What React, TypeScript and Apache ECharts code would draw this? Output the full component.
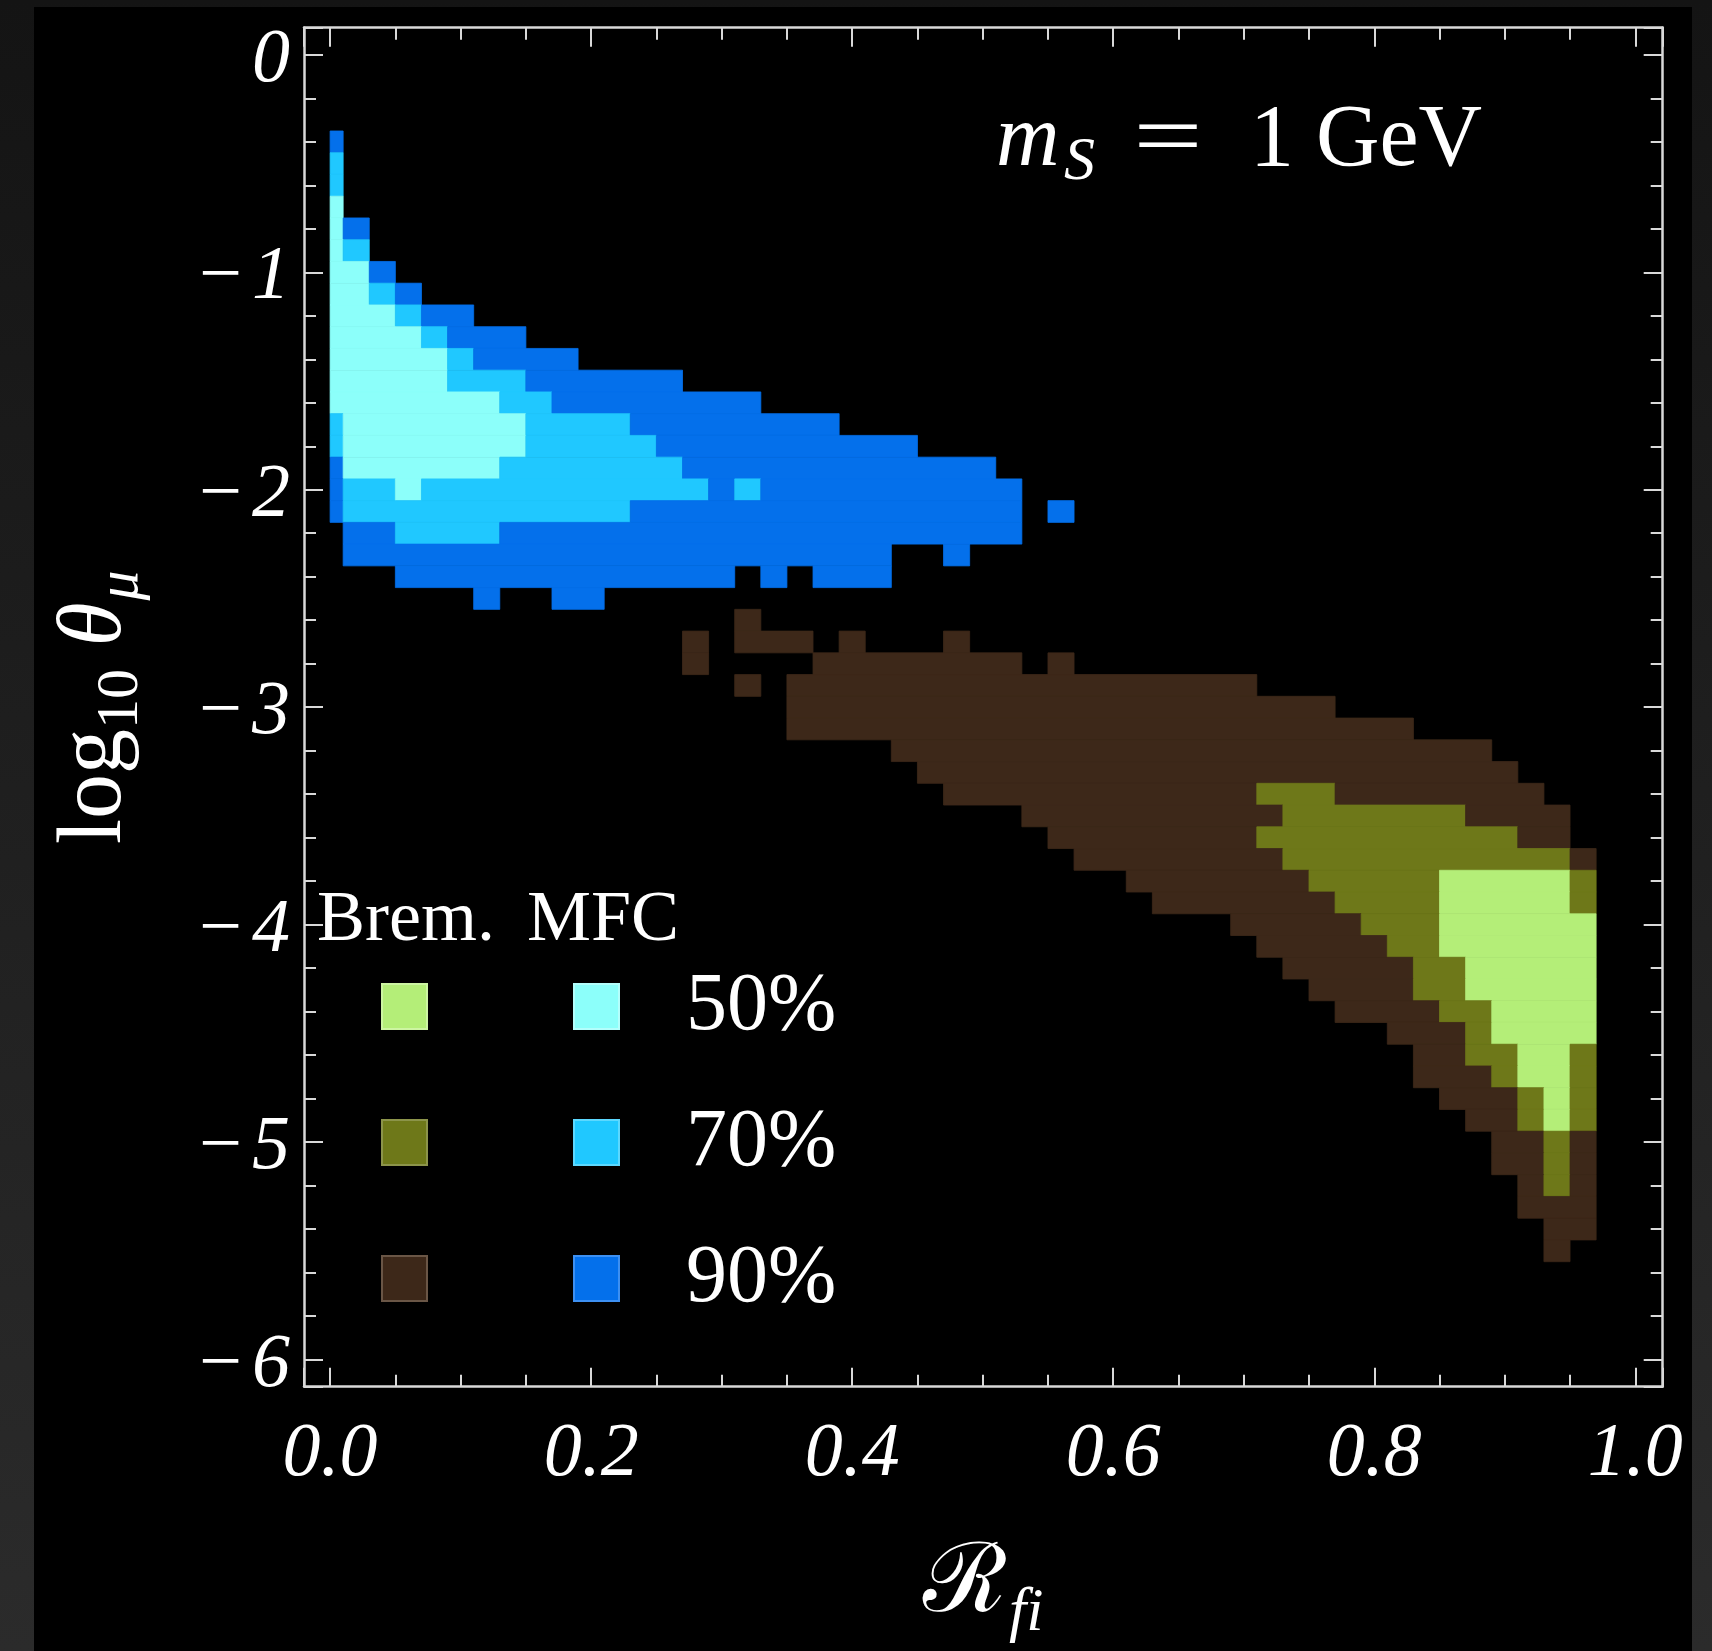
import React, { useEffect, useRef } from 'react';
import * as echarts from 'echarts';

// Grid spacing of the scan (cell centres at x = col*COL_STEP, y = -row*ROW_STEP)
const COL_STEP = 0.02;
const ROW_STEP = 0.1;

// Runs of equal confidence level: [row, firstCol, lastCol, level(%)]
const mfcRuns: number[][] = [
  [4, 0, 0, 90], [5, 0, 0, 70], [6, 0, 0, 70], [7, 0, 0, 50],
  [8, 0, 0, 50], [8, 1, 1, 90],
  [9, 0, 0, 50], [9, 1, 1, 70],
  [10, 0, 1, 50], [10, 2, 2, 90],
  [11, 0, 1, 50], [11, 2, 2, 70], [11, 3, 3, 90],
  [12, 0, 2, 50], [12, 3, 3, 70], [12, 4, 5, 90],
  [13, 0, 3, 50], [13, 4, 4, 70], [13, 5, 7, 90],
  [14, 0, 4, 50], [14, 5, 5, 70], [14, 6, 9, 90],
  [15, 0, 4, 50], [15, 5, 7, 70], [15, 8, 13, 90],
  [16, 0, 6, 50], [16, 7, 8, 70], [16, 9, 16, 90],
  [17, 0, 0, 70], [17, 1, 7, 50], [17, 8, 11, 70], [17, 12, 19, 90],
  [18, 0, 0, 70], [18, 1, 7, 50], [18, 8, 12, 70], [18, 13, 22, 90],
  [19, 0, 0, 90], [19, 1, 6, 50], [19, 7, 13, 70], [19, 14, 25, 90],
  [20, 0, 0, 90], [20, 1, 2, 70], [20, 3, 3, 50], [20, 4, 14, 70], [20, 15, 15, 90], [20, 16, 16, 70], [20, 17, 26, 90],
  [21, 0, 0, 90], [21, 1, 11, 70], [21, 12, 26, 90], [21, 28, 28, 90],
  [22, 1, 2, 90], [22, 3, 6, 70], [22, 7, 26, 90],
  [23, 1, 21, 90], [23, 24, 24, 90],
  [24, 3, 15, 90], [24, 17, 17, 90], [24, 19, 21, 90],
  [25, 6, 6, 90], [25, 9, 10, 90],
];

const bremRuns: number[][] = [
  [26, 16, 16, 90],
  [27, 14, 14, 90], [27, 16, 18, 90], [27, 20, 20, 90], [27, 24, 24, 90],
  [28, 14, 14, 90], [28, 19, 26, 90], [28, 28, 28, 90],
  [29, 16, 16, 90], [29, 18, 35, 90],
  [30, 18, 38, 90],
  [31, 18, 41, 90],
  [32, 22, 44, 90],
  [33, 23, 45, 90],
  [34, 24, 35, 90], [34, 36, 38, 70], [34, 39, 46, 90],
  [35, 27, 36, 90], [35, 37, 43, 70], [35, 44, 47, 90],
  [36, 28, 35, 90], [36, 36, 45, 70], [36, 46, 47, 90],
  [37, 29, 36, 90], [37, 37, 47, 70], [37, 48, 48, 90],
  [38, 31, 37, 90], [38, 38, 42, 70], [38, 43, 47, 50], [38, 48, 48, 70],
  [39, 32, 38, 90], [39, 39, 42, 70], [39, 43, 47, 50], [39, 48, 48, 70],
  [40, 35, 39, 90], [40, 40, 42, 70], [40, 43, 48, 50],
  [41, 36, 40, 90], [41, 41, 42, 70], [41, 43, 48, 50],
  [42, 37, 41, 90], [42, 42, 43, 70], [42, 44, 48, 50],
  [43, 38, 41, 90], [43, 42, 43, 70], [43, 44, 48, 50],
  [44, 39, 42, 90], [44, 43, 44, 70], [44, 45, 48, 50],
  [45, 41, 43, 90], [45, 44, 44, 70], [45, 45, 48, 50],
  [46, 42, 43, 90], [46, 44, 45, 70], [46, 46, 47, 50], [46, 48, 48, 70],
  [47, 42, 44, 90], [47, 45, 45, 70], [47, 46, 47, 50], [47, 48, 48, 70],
  [48, 43, 45, 90], [48, 46, 46, 70], [48, 47, 47, 50], [48, 48, 48, 70],
  [49, 44, 45, 90], [49, 46, 46, 70], [49, 47, 47, 50], [49, 48, 48, 70],
  [50, 45, 46, 90], [50, 47, 47, 70], [50, 48, 48, 90],
  [51, 45, 46, 90], [51, 47, 47, 70], [51, 48, 48, 90],
  [52, 46, 46, 90], [52, 47, 47, 70], [52, 48, 48, 90],
  [53, 46, 48, 90],
  [54, 47, 48, 90],
  [55, 47, 47, 90],
];

const confidenceLevels = [50, 70, 90];
const mfcColors: Record<number, string> = { 50: '#8cfffa', 70: '#20c8ff', 90: '#0470eb' };
const bremColors: Record<number, string> = { 50: '#b4ee78', 70: '#6e7819', 90: '#3d2819' };
const mfcEdge: Record<number, string> = { 50: '#b4fffc', 70: '#5cd8ff', 90: '#3d90f2' };
const bremEdge: Record<number, string> = { 50: '#cdf5a2', 70: '#8c944a', 90: '#6a5646' };

const xTickValues = [0, 0.2, 0.4, 0.6, 0.8, 1.0];
const xTickLabels = ['0.0', '0.2', '0.4', '0.6', '0.8', '1.0'];
const yTickValues = [0, -1, -2, -3, -4, -5, -6];
const yTickLabels = ['0', '\u2212\u200a1', '\u2212\u200a2', '\u2212\u200a3', '\u2212\u200a4', '\u2212\u200a5', '\u2212\u200a6'];

const X_RANGE = [-0.02, 1.021];
const Y_RANGE = [-6.125, 0.125];

const SERIF = '"Liberation Serif", "Times New Roman", serif';
const FRAME = '#d9d9d9';

function runsToData(runs: number[][]) {
  return runs.map(([row, c0, c1, lvl]) => [
    Math.max(0, c0 * COL_STEP - COL_STEP / 2),
    c1 * COL_STEP + COL_STEP / 2,
    -row * ROW_STEP,
    lvl,
  ]);
}

function makeRenderItem(colors: Record<number, string>) {
  return (params: any, api: any) => {
    const x0 = api.value(0);
    const x1 = api.value(1);
    const y = api.value(2);
    const lvl = api.value(3);
    const p0 = api.coord([x0, y + ROW_STEP / 2]);
    const p1 = api.coord([x1, y - ROW_STEP / 2]);
    const c = colors[lvl];
    return {
      type: 'rect',
      shape: { x: p0[0], y: p0[1], width: p1[0] - p0[0], height: p1[1] - p0[1] },
      style: { fill: c, stroke: c, lineWidth: 0.8 },
    };
  };
}

function labelFor(values: number[], labels: string[]) {
  return (v: number) => {
    const i = values.findIndex((t) => Math.abs(t - v) < 1e-9);
    return i >= 0 ? labels[i] : '';
  };
}

const tickLine = { color: FRAME, width: 2 };

function xAxisDef(position: 'top' | 'bottom', withLabels: boolean) {
  return {
    type: 'value',
    position,
    min: X_RANGE[0],
    max: X_RANGE[1],
    axisLine: { show: true, onZero: false, lineStyle: { color: FRAME, width: 2.5 } },
    axisTick: { show: true, inside: true, length: 19, lineStyle: tickLine },
    minorTick: { show: true, splitNumber: 4, length: 12, lineStyle: tickLine },
    splitLine: { show: false },
    minorSplitLine: { show: false },
    axisLabel: withLabels
      ? {
          show: true,
          formatter: labelFor(xTickValues, xTickLabels),
          color: '#ffffff',
          fontFamily: SERIF,
          fontStyle: 'italic',
          fontSize: 76,
          margin: 24,
        }
      : { show: false },
    name: withLabels ? '{r|\u211B}{f|fi}' : '',
    nameLocation: 'middle',
    nameGap: 131,
    nameTextStyle: {
      color: '#ffffff',
      rich: {
        r: { fontFamily: SERIF, fontSize: 96, color: '#ffffff' },
        f: { fontFamily: SERIF, fontStyle: 'italic', fontSize: 62, color: '#ffffff', padding: [60, 0, 0, 2] },
      },
    },
  };
}

function yAxisDef(position: 'left' | 'right', withLabels: boolean) {
  return {
    type: 'value',
    position,
    min: Y_RANGE[0],
    max: Y_RANGE[1],
    axisLine: { show: true, onZero: false, lineStyle: { color: FRAME, width: 2.5 } },
    axisTick: { show: true, inside: true, length: 19, lineStyle: tickLine },
    minorTick: { show: true, splitNumber: 5, length: 12, lineStyle: tickLine },
    splitLine: { show: false },
    minorSplitLine: { show: false },
    axisLabel: withLabels
      ? {
          show: true,
          formatter: labelFor(yTickValues, yTickLabels),
          color: '#ffffff',
          fontFamily: SERIF,
          fontStyle: 'italic',
          fontSize: 76,
          margin: 14,
        }
      : { show: false },
    name: withLabels ? '{a|log}{n|10}{a| }{t|\u03b8}{m|\u03bc}' : '',
    nameLocation: 'middle',
    nameGap: 157,
    nameTextStyle: {
      color: '#ffffff',
      rich: {
        a: { fontFamily: SERIF, fontSize: 90, color: '#ffffff' },
        t: { fontFamily: SERIF, fontStyle: 'italic', fontSize: 90, color: '#ffffff' },
        n: { fontFamily: SERIF, fontSize: 60, color: '#ffffff', padding: [56, 0, 0, 0] },
        m: { fontFamily: SERIF, fontStyle: 'italic', fontSize: 60, color: '#ffffff', padding: [56, 0, 0, 2] },
      },
    },
  };
}

function buildLegend() {
  const els: any[] = [];
  const rowTops = [984, 1120, 1256];
  const size = 45;
  els.push({
    type: 'text', x: 317, y: 916, z: 10,
    style: { text: 'Brem.', fill: '#ffffff', font: `72px ${SERIF}`, textAlign: 'left', textVerticalAlign: 'middle', verticalAlign: 'middle' },
  });
  els.push({
    type: 'text', x: 527, y: 916, z: 10,
    style: { text: 'MFC', fill: '#ffffff', font: `72px ${SERIF}`, textAlign: 'left', textVerticalAlign: 'middle', verticalAlign: 'middle' },
  });
  confidenceLevels.forEach((lvl, i) => {
    const top = rowTops[i];
    els.push({
      type: 'rect', z: 10,
      shape: { x: 382, y: top, width: size, height: size },
      style: { fill: bremColors[lvl], stroke: bremEdge[lvl], lineWidth: 2 },
    });
    els.push({
      type: 'rect', z: 10,
      shape: { x: 574, y: top, width: size, height: size },
      style: { fill: mfcColors[lvl], stroke: mfcEdge[lvl], lineWidth: 2 },
    });
    els.push({
      type: 'text', x: 686, y: top + 17, z: 10,
      style: { text: `${lvl}%`, fill: '#ffffff', font: `82px ${SERIF}`, textAlign: 'left', textVerticalAlign: 'middle', verticalAlign: 'middle' },
    });
  });
  return els;
}

function buildTitle() {
  const base = { fill: '#ffffff', textVerticalAlign: 'middle', verticalAlign: 'middle' };
  return [
    { type: 'text', x: 996, y: 135, z: 10, style: { ...base, text: 'm', font: `italic 88px ${SERIF}`, textAlign: 'left' } },
    { type: 'text', x: 1064, y: 158, z: 10, style: { ...base, text: 'S', font: `italic 62px ${SERIF}`, textAlign: 'left' } },
    { type: 'text', x: 1168, y: 135, z: 10, scaleX: 1.4, style: { ...base, text: '=', font: `88px ${SERIF}`, textAlign: 'center' } },
    { type: 'text', x: 1250, y: 135, z: 10, style: { ...base, text: '1 GeV', font: `88px ${SERIF}`, textAlign: 'left' } },
  ];
}

export default function App() {
  const ref = useRef<HTMLDivElement>(null);
  useEffect(() => {
    document.body.style.margin = '0';
    document.body.style.overflow = 'hidden';
    const chart = echarts.init(ref.current as HTMLDivElement, null, { renderer: 'svg' });
    const option: any = {
      animation: false,
      backgroundColor: 'transparent',
      grid: { left: 304, top: 27.7, right: 49.3, bottom: 264.3, containLabel: false, outerBoundsMode: 'none' },
      xAxis: [xAxisDef('bottom', true), xAxisDef('top', false)],
      yAxis: [yAxisDef('left', true), yAxisDef('right', false)],
      graphic: {
        elements: [
          { type: 'rect', z: -100, shape: { x: 34, y: 7, width: 1658, height: 1644 }, style: { fill: '#000000' } },
          ...buildLegend(),
          ...buildTitle(),
        ],
      },
      series: [
        {
          type: 'custom',
          name: 'MFC',
          xAxisIndex: 0,
          yAxisIndex: 0,
          silent: true,
          renderItem: makeRenderItem(mfcColors),
          dimensions: ['x0', 'x1', 'y', 'level'],
          encode: { x: [0, 1], y: 2 },
          data: runsToData(mfcRuns),
        },
        {
          type: 'custom',
          name: 'Brem.',
          xAxisIndex: 0,
          yAxisIndex: 0,
          silent: true,
          renderItem: makeRenderItem(bremColors),
          dimensions: ['x0', 'x1', 'y', 'level'],
          encode: { x: [0, 1], y: 2 },
          data: runsToData(bremRuns),
        },
      ],
    };
    chart.setOption(option);
    return () => chart.dispose();
  }, []);
  return (
    <div
      ref={ref}
      style={{ width: 1712, height: 1651, background: 'linear-gradient(#141414, #2b2b2b)' }}
    />
  );
}
